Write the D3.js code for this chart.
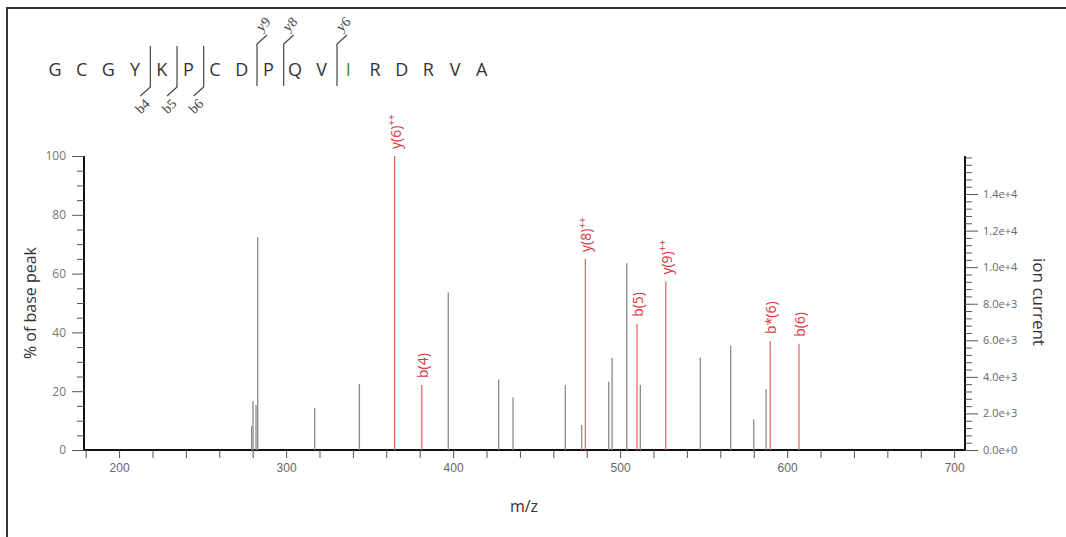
<!DOCTYPE html>
<html>
<head>
<meta charset="utf-8">
<script src="https://cdn.jsdelivr.net/npm/d3@7"></script>
<style>
  html, body { margin: 0; padding: 0; background: #fff; }
  svg { display: block; }
</style>
</head>
<body>
<svg id="chart" width="1066" height="537"></svg>
<script>
// ---------- DATA ----------
const sequence = ["G","C","G","Y","K","P","C","D","P","Q","V","I","R","D","R","V","A"];
const highlightResidue = [11];            // index of residue shown in green (I)
const bLabels = ["b4","b5","b6"];
const bCleave = [4, 5, 6];                // cleavage after N residues
const yLabels = ["y9","y8","y6"];
const yCleave = [8, 9, 11];

const grayMz  = [279.4, 280.2, 282.0, 283.0, 317.1, 343.9, 397.1, 427.3, 435.9, 467.2, 477.0, 493.2, 495.2, 504.0, 512.1, 548.0, 566.2, 580.0, 587.4];
const grayPct = [8.2, 16.7, 15.3, 72.4, 14.3, 22.4, 53.6, 24.0, 17.9, 22.1, 8.5, 23.2, 31.4, 63.5, 22.1, 31.5, 35.5, 10.5, 20.7];

const redMz     = [365.0, 381.2, 479.2, 510.1, 527.3, 589.9, 607.1];
const redPct    = [100, 22.1, 65.0, 42.9, 57.3, 37.1, 36.1];
const redBase   = ["y(6)", "b(4)", "y(8)", "b(5)", "y(9)", "b*(6)", "b(6)"];
const redCharge = ["++", "", "++", "", "++", "", ""];

const xDomain = [179, 706.5];
const xMajorTicks = [200, 300, 400, 500, 600, 700];
const yLeftTicks = [0, 20, 40, 60, 80, 100];
const ionMax = 16080;
const yRightTicks = [0, 2000, 4000, 6000, 8000, 10000, 12000, 14000];

// ---------- LAYOUT ----------
const svg = d3.select("#chart");
const pL = 84, pR = 965, pT = 156, pB = 450;

svg.append("rect").attr("width", 1066).attr("height", 537).attr("fill", "#fff");
// frame (top and left only)
svg.append("path").attr("d", "M7,537 L7,8 L1066,8").attr("fill", "none")
  .attr("stroke", "#333").attr("stroke-width", 2);

const x = d3.scaleLinear().domain(xDomain).range([pL, pR]);
const y = d3.scaleLinear().domain([0, 100]).range([pB, pT]);
const yR = d3.scaleLinear().domain([0, ionMax]).range([pB, pT]);

const tickFont = "'Liberation Sans Narrow','Arial Narrow','Liberation Sans',sans-serif";
const sans = "'Open Sans','Liberation Sans',sans-serif";

// X axis
const xAxis = d3.axisBottom(x)
  .tickValues(d3.range(180, 706, 20))
  .tickSize(8)
  .tickFormat(d => xMajorTicks.includes(d) ? d : "");
const gx = svg.append("g").attr("transform", `translate(0,${pB})`).call(xAxis);
gx.select(".domain").attr("stroke", "#111").attr("stroke-width", 2).attr("d", `M${pL},0H${pR}`);
gx.selectAll(".tick line").attr("stroke", "#555").attr("stroke-width", 1);
gx.selectAll(".tick text").attr("fill", "#666").attr("font-size", 12)
  .attr("font-family", tickFont).attr("dy", "0.9em");

// Left axis
const yAxis = d3.axisLeft(y).tickValues(d3.range(0, 101, 5)).tickSize(7)
  .tickFormat(d => yLeftTicks.includes(d) ? d : "");
const gy = svg.append("g").attr("transform", `translate(${pL},0)`).call(yAxis);
gy.select(".domain").attr("stroke", "#111").attr("stroke-width", 2).attr("d", `M0,${pT}V${pB}`);
gy.selectAll(".tick line").attr("stroke", "#555")
  .attr("x2", d => yLeftTicks.includes(d) ? -12 : -7);
gy.selectAll(".tick text").attr("fill", "#777").attr("font-size", 12)
  .attr("font-family", sans).attr("x", -18);

// Right axis
const yRAxis = d3.axisRight(yR).tickValues(d3.range(0, 16001, 400)).tickSize(7)
  .tickFormat(d => yRightTicks.includes(d) ? d3.format(".1e")(d) : "");
const gyr = svg.append("g").attr("transform", `translate(${pR},0)`).call(yRAxis);
gyr.select(".domain").attr("stroke", "#111").attr("stroke-width", 2).attr("d", `M0,${pT}V${pB}`);
gyr.selectAll(".tick line").attr("stroke", "#555")
  .attr("x2", d => yRightTicks.includes(d) ? 13 : 7);
gyr.selectAll(".tick text").attr("fill", "#666").attr("font-size", 11)
  .attr("font-family", sans).attr("x", 18);

// Axis titles
svg.append("text").attr("transform", "translate(30,303) rotate(-90)")
  .attr("text-anchor", "middle").attr("dy", "0.35em")
  .attr("font-family", sans).attr("font-size", 16)
  .attr("fill", "#333").text("% of base peak");
svg.append("text").attr("transform", "translate(1039,302) rotate(90)")
  .attr("text-anchor", "middle").attr("dy", "0.35em")
  .attr("font-family", sans).attr("font-size", 17)
  .attr("fill", "#333").text("ion current");
svg.append("text").attr("x", 524).attr("y", 506)
  .attr("text-anchor", "middle").attr("dy", "0.35em")
  .attr("font-family", sans).attr("font-size", 16)
  .attr("fill", "#333").text("m/z");

// Peaks
const gray = grayMz.map((m, i) => ({ m, p: grayPct[i] }));
svg.append("g").selectAll("line").data(gray).join("line")
  .attr("x1", d => x(d.m)).attr("x2", d => x(d.m))
  .attr("y1", y(0)).attr("y2", d => y(d.p))
  .attr("stroke", "#8a8a8a").attr("stroke-width", 1.3);

const red = redMz.map((m, i) => ({ m, p: redPct[i], base: redBase[i], charge: redCharge[i] }));
svg.append("g").selectAll("line").data(red).join("line")
  .attr("x1", d => x(d.m)).attr("x2", d => x(d.m))
  .attr("y1", y(0)).attr("y2", d => y(d.p))
  .attr("stroke", "#e46a6a").attr("stroke-width", 1.3);

const lbl = svg.append("g").selectAll("text").data(red).join("text")
  .attr("transform", d => `translate(${x(d.m) + 1},${y(d.p) - 7}) rotate(-90)`)
  .attr("dy", "0.35em")
  .attr("font-family", sans).attr("font-size", 14)
  .attr("fill", "#d9363e");
lbl.append("tspan").text(d => d.base);
lbl.filter(d => d.charge).append("tspan").attr("dy", "-0.55em").attr("font-size", 10).text(d => d.charge);

// Sequence
const sx = d3.scalePoint().domain(d3.range(sequence.length)).range([55, 481.7]);
const step = sx.step();
svg.append("g").selectAll("text").data(sequence).join("text")
  .attr("x", (d, i) => sx(i)).attr("y", 70).attr("dy", "0.35em")
  .attr("text-anchor", "middle")
  .attr("font-family", sans).attr("font-size", 18)
  .attr("fill", (d, i) => highlightResidue.includes(i) ? "#3d8a3d" : "#333")
  .text(d => d);

const cut = n => sx(n - 1) + step / 2 + 2;
const serif = "'Liberation Serif','DejaVu Serif',serif";

const bData = bLabels.map((l, i) => ({ l, n: bCleave[i] }));
const gb = svg.append("g");
gb.selectAll("path").data(bData).join("path")
  .attr("d", d => `M${cut(d.n)},46 V87 L${cut(d.n) - 10},96`)
  .attr("fill", "none").attr("stroke", "#444").attr("stroke-width", 1.2);
gb.selectAll("text").data(bData).join("text")
  .attr("transform", d => `translate(${cut(d.n) - 8},106) rotate(-45)`)
  .attr("text-anchor", "middle").attr("dy", "0.35em")
  .attr("font-family", serif).attr("font-size", 14).attr("fill", "#444")
  .text(d => d.l);

const yData = yLabels.map((l, i) => ({ l, n: yCleave[i] }));
const gyi = svg.append("g");
gyi.selectAll("path").data(yData).join("path")
  .attr("d", d => `M${cut(d.n)},86 V44 L${cut(d.n) + 10},35`)
  .attr("fill", "none").attr("stroke", "#444").attr("stroke-width", 1.2);
gyi.selectAll("text").data(yData).join("text")
  .attr("transform", d => `translate(${cut(d.n) + 6},24) rotate(-45)`)
  .attr("text-anchor", "middle").attr("dy", "0.35em")
  .attr("font-family", serif).attr("font-size", 14).attr("fill", "#444")
  .text(d => d.l);
</script>
</body>
</html>
